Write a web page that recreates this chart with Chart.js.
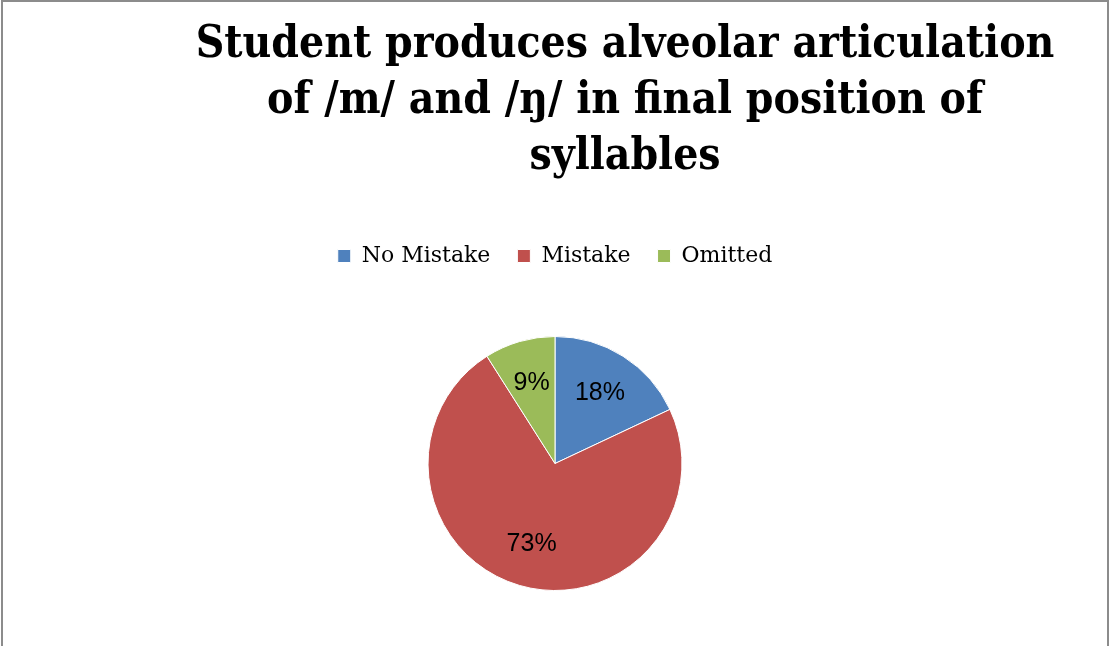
<!DOCTYPE html>
<html>
<head>
<meta charset="utf-8">
<script src="https://cdn.jsdelivr.net/npm/chart.js@4/dist/chart.umd.min.js"></script>
<style>
  html, body { margin: 0; padding: 0; background: #fff; overflow: hidden; }
  #frame { position: absolute; left: 1px; top: 0; width: 1104px; height: 800px; border: 2px solid #8c8c8c; }
  #wrap { position: absolute; left: 0; top: 0; width: 1110px; height: 700px; }
</style>
</head>
<body>
<div id="frame"></div>
<div id="wrap"><canvas id="chart" width="1110" height="700"></canvas></div>
<script>
var titleLines = ["Student produces alveolar articulation", "of /m/ and /\u014b/ in final position of", "syllables"];
var categories = ["No Mistake", "Mistake", "Omitted"];
var percents = [18, 73, 9];
var sliceColors = ["#4f81bd", "#c0504d", "#9bbb59"];

// title drawn by hand so it can sit right of the pie's centre line
var titlePlugin = {
	id: "sheetTitle",
	afterDraw: function(chart) {
		var ctx = chart.ctx;
		ctx.save();
		ctx.font = "bold 44px 'DejaVu Serif Condensed', 'DejaVu Serif'";
		ctx.fillStyle = "#000";
		ctx.textAlign = "center";
		ctx.textBaseline = "alphabetic";
		for (var i = 0; i < titleLines.length; i++) {
			ctx.fillText(titleLines[i], 625, 57 + i * 56);
		}
		ctx.restore();
	}
};

// percent labels inside each slice
var sliceLabels = {
	id: "sliceLabels",
	afterDatasetsDraw: function(chart) {
		var ctx = chart.ctx;
		var meta = chart.getDatasetMeta(0);
		ctx.save();
		ctx.font = "25px 'Liberation Sans'";
		ctx.fillStyle = "#000";
		ctx.textAlign = "center";
		ctx.textBaseline = "middle";
		meta.data.forEach(function(arc, i) {
			var p = arc.getProps(["x", "y", "startAngle", "endAngle", "outerRadius"], true);
			var mid = (p.startAngle + p.endAngle) / 2;
			var r = p.outerRadius * 0.66;
			ctx.fillText(percents[i] + "%", p.x + Math.cos(mid) * r, p.y + Math.sin(mid) * r);
		});
		ctx.restore();
	}
};

new Chart(document.getElementById("chart"), {
	type: "pie",
	data: {
		labels: categories,
		datasets: [{
			data: percents,
			backgroundColor: sliceColors,
			borderColor: "#ffffff",
			borderWidth: 1,
			hoverOffset: 0,
			radius: 127
		}]
	},
	options: {
		responsive: false,
		animation: false,
		layout: { padding: { top: 218, bottom: 50 } },
		plugins: {
			legend: {
				position: "top",
				labels: {
					boxWidth: 13,
					boxHeight: 13,
					padding: 27,
					color: "#000",
					font: { family: "'DejaVu Serif'", size: 22 }
				}
			},
			tooltip: { enabled: false }
		}
	},
	plugins: [titlePlugin, sliceLabels]
});
</script>
</body>
</html>
